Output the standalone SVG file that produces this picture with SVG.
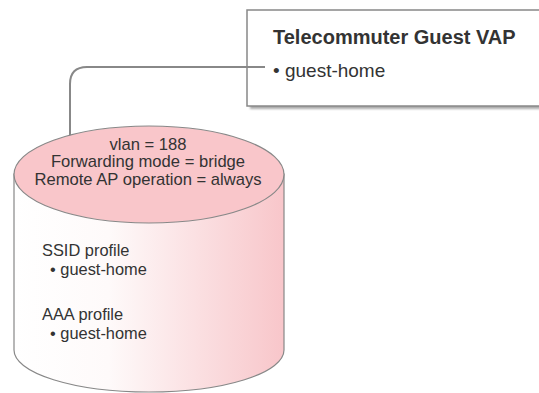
<svg xmlns="http://www.w3.org/2000/svg" width="539" height="393" viewBox="0 0 539 393">
<defs>
<linearGradient id="body" x1="0" y1="0" x2="1" y2="0">
<stop offset="0" stop-color="#ffffff"/>
<stop offset="0.35" stop-color="#fefafa"/>
<stop offset="1" stop-color="#f8c6ca"/>
</linearGradient>
<filter id="sh" x="-5%" y="-5%" width="115%" height="120%">
<feGaussianBlur stdDeviation="0.8"/>
</filter>
</defs>
<style>
text{font-family:"Liberation Sans",Arial,sans-serif;fill:#333;}
.t{font-size:16.6px;}
.b{font-size:16.4px;}
.h{font-size:20px;font-weight:bold;}
.v{font-size:19px;}
.edge{fill:none;stroke:#888;stroke-width:2;}
</style>
<g id="connectors">
<path class="edge" d="M70,136 V84 Q70,67 87,67 H265"/>
</g>
<g id="vap">
<rect x="250" y="13" width="300" height="96" fill="#aaa" filter="url(#sh)"/>
<rect x="247" y="10" width="300" height="96" fill="#fff" stroke="#888" stroke-width="1.5"/>
<line x1="247" y1="67" x2="265" y2="67" stroke="#888" stroke-width="2"/>
<text class="h" x="273" y="44">Telecommuter Guest VAP</text>
<text class="v" x="273" y="77">• guest-home</text>
</g>
<g id="profile">
<path d="M14,174 V350 A135,42 0 0 0 284,350 V174 Z" fill="url(#body)" stroke="#888" stroke-width="1.2"/>
<ellipse cx="149" cy="174.5" rx="135" ry="48.5" fill="#f9c6ca" stroke="#888" stroke-width="1.2"/>
<text class="t" x="148" y="149.5" text-anchor="middle">vlan = 188</text>
<text class="t" x="148" y="167" text-anchor="middle">Forwarding mode = bridge</text>
<text class="t" x="148" y="184.5" text-anchor="middle">Remote AP operation = always</text>
<text class="b" x="42" y="256">SSID profile</text>
<text class="b" x="50" y="275">• guest-home</text>
<text class="b" x="42" y="320">AAA profile</text>
<text class="b" x="50" y="339">• guest-home</text>
</g>
</svg>
